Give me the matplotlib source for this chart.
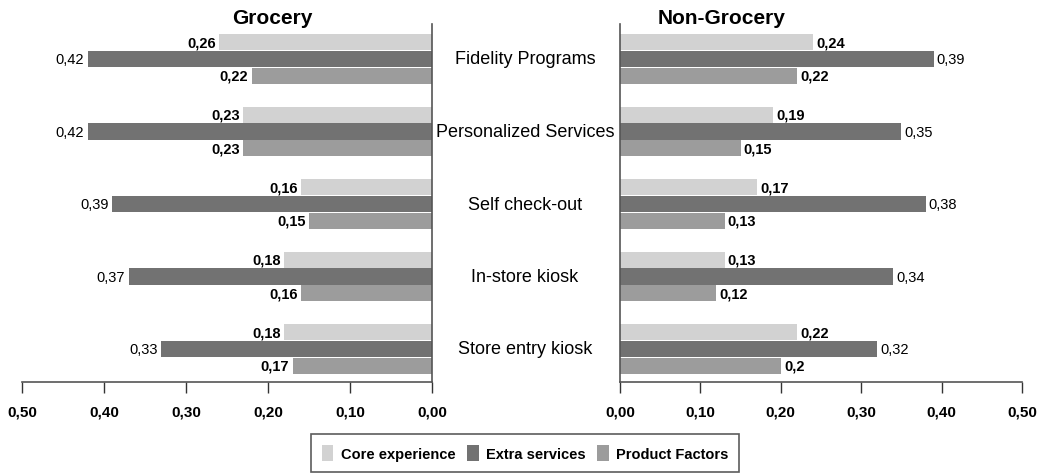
import matplotlib
matplotlib.use("Agg")
import matplotlib.pyplot as plt
from matplotlib.patches import Patch
import numpy as np

categories = ["Fidelity Programs", "Personalized Services", "Self check-out",
              "In-store kiosk", "Store entry kiosk"]
series = ["Core experience", "Extra services", "Product Factors"]
grocery_core = [0.26, 0.23, 0.16, 0.18, 0.18]
grocery_extra = [0.42, 0.42, 0.39, 0.37, 0.33]
grocery_product = [0.22, 0.23, 0.15, 0.16, 0.17]
nongrocery_core = [0.24, 0.19, 0.17, 0.13, 0.22]
nongrocery_extra = [0.39, 0.35, 0.38, 0.34, 0.32]
nongrocery_product = [0.22, 0.15, 0.13, 0.12, 0.20]
xticks = [0.0, 0.1, 0.2, 0.3, 0.4, 0.5]

colors = ["#d2d2d2", "#727272", "#9c9c9c"]
FONT = ["Liberation Sans Narrow", "Liberation Sans", "DejaVu Sans"]
plt.rcParams["font.family"] = FONT


def fmt(v):
    return ("%g" % v).replace(".", ",")


fig = plt.figure(figsize=(10.48, 4.77), dpi=100)
W, H = 1048, 477
top_px, bot_px = 25, 383
axL = fig.add_axes([22 / W, (H - bot_px) / H, 410 / W, (bot_px - top_px) / H])
axR = fig.add_axes([620 / W, (H - bot_px) / H, 402 / W, (bot_px - top_px) / H])

y = np.arange(len(categories))
offs = [-0.232, 0.0, 0.232]
bh = 0.222

for ax, data, side in [(axL, [grocery_core, grocery_extra, grocery_product], "L"),
                       (axR, [nongrocery_core, nongrocery_extra, nongrocery_product], "R")]:
    for k, vals in enumerate(data):
        ax.barh(y + offs[k], vals, height=bh, color=colors[k], edgecolor="none")
        for yi, v in zip(y, vals):
            bold = k != 1
            ax.text(v + 0.004, yi + offs[k], fmt(v),
                    ha="right" if side == "L" else "left", va="center",
                    fontsize=10.5, fontweight="bold" if bold else "normal",
                    color="black")
    ax.set_xlim(0, 0.5)
    ax.set_ylim(4.455, -0.483)
    ax.set_yticks([])
    ax.set_xticks(xticks)
    ax.xaxis.set_major_formatter(matplotlib.ticker.FuncFormatter(
        lambda v, p: ("%.2f" % v).replace(".", ",")))
    ax.tick_params(axis="x", direction="out", length=8, width=1, pad=8, colors="#333333",
                   labelcolor="black", labelsize=11)
    for lab in ax.get_xticklabels():
        lab.set_fontweight("bold")
    ax.spines["top"].set_visible(False)
    for s in ax.spines.values():
        s.set_color("#555555")
        s.set_linewidth(1.2)

axL.invert_xaxis()
axL.spines["left"].set_visible(False)
axR.spines["right"].set_visible(False)

for yi, c in zip(y, categories):
    fig.text(525 / W, 1 - (60 + 72.5 * yi) / H, c, ha="center", va="center",
             fontsize=13, color="black")

fig.text(272 / W, 1 - 18 / H, "Grocery", ha="center", va="center", fontsize=15,
         fontweight="bold")
fig.text(722 / W, 1 - 18 / H, "Non-Grocery", ha="center", va="center", fontsize=15,
         fontweight="bold")

handles = [Patch(facecolor=c, edgecolor="none") for c in colors]
leg = fig.legend(handles, series, loc="center", bbox_to_anchor=(525 / W, 1 - 454 / H),
                 ncol=3, frameon=True, fancybox=False, edgecolor="#333333",
                 prop={"size": 10.5, "weight": "bold", "family": FONT},
                 handlelength=0.8, handleheight=1.4, handletextpad=0.5,
                 columnspacing=0.8, borderpad=0.7)
leg.get_frame().set_linewidth(1.2)

fig.savefig("out.png", dpi=100)
